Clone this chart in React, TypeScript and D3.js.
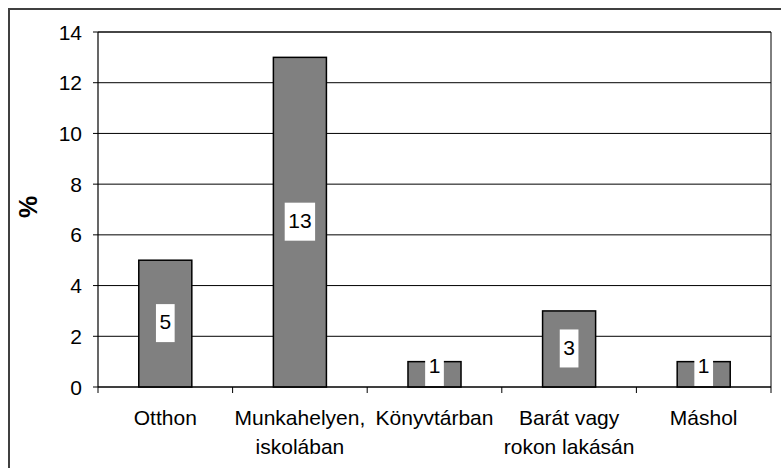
import React from "react";
import * as d3 from "d3";

const categories: string[][] = [
  ["Otthon"],
  ["Munkahelyen,", "iskolában"],
  ["Könyvtárban"],
  ["Barát vagy", "rokon lakásán"],
  ["Máshol"],
];
const values: number[] = [5, 13, 1, 3, 1];
const yTicks: number[] = [0, 2, 4, 6, 8, 10, 12, 14];
const yTitle = "%";

const W = 781;
const H = 468;
const FONT = "'Liberation Sans', Arial, sans-serif";
const FS = 21;

export default function App() {
  const left = 98;
  const right = 771;
  const top = 32;
  const bottom = 387;

  const x = d3
    .scaleBand<number>()
    .domain(values.map((_, i) => i))
    .range([left, right])
    .padding(0);
  const y = d3.scaleLinear().domain([0, 14]).range([bottom, top]);
  const barW = x.bandwidth() * 0.394;
  const boundaries = d3.range(values.length + 1).map((i) => left + i * x.step());

  const boxH = 39;

  return (
    <svg
      width={W}
      height={H}
      style={{ position: "absolute", left: 0, top: 0, background: "#fff" }}
      fontFamily={FONT}
    >
      <rect x={0} y={0} width={W} height={H} fill="#fff" />
      {/* outer frame */}
      <rect x={9} y={9} width={W + 20} height={H + 20} fill="none" stroke="#404040" strokeWidth={2} />

      {/* gridlines */}
      {yTicks.map((t) => (
        <line key={"g" + t} x1={left} x2={right} y1={y(t)} y2={y(t)} stroke="#000" strokeWidth={1} />
      ))}
      {/* plot area border top/right */}
      <line x1={left} x2={right} y1={top} y2={top} stroke="#333" strokeWidth={1.5} />
      <line x1={right} x2={right} y1={top} y2={bottom} stroke="#000" strokeWidth={1} />

      {/* bars */}
      {values.map((v, i) => {
        const cx = (x(i) as number) + x.bandwidth() / 2;
        return (
          <rect
            key={"b" + i}
            x={cx - barW / 2}
            y={y(v)}
            width={barW}
            height={y(0) - y(v)}
            fill="#808080"
            stroke="#000"
            strokeWidth={1.5}
          />
        );
      })}

      {/* axes */}
      <line x1={left} x2={left} y1={top} y2={bottom} stroke="#000" strokeWidth={1.2} />
      <line x1={left} x2={right} y1={bottom} y2={bottom} stroke="#000" strokeWidth={1.2} />
      {yTicks.map((t) => (
        <g key={"yt" + t}>
          <line x1={left - 5} x2={left} y1={y(t)} y2={y(t)} stroke="#000" strokeWidth={1} />
          <text x={82} y={y(t)} dy="0.36em" textAnchor="end" fontSize={FS} fill="#000">
            {t}
          </text>
        </g>
      ))}
      {boundaries.map((b, i) => (
        <line key={"xt" + i} x1={b} x2={b} y1={bottom} y2={bottom + 6} stroke="#000" strokeWidth={1} />
      ))}

      {/* category labels */}
      {categories.map((lines, i) => {
        const cx = (x(i) as number) + x.bandwidth() / 2;
        return (
          <text key={"c" + i} x={cx} textAnchor="middle" fontSize={FS} fill="#000">
            {lines.map((l, j) => (
              <tspan key={j} x={cx} y={425 + j * 29}>
                {l}
              </tspan>
            ))}
          </text>
        );
      })}

      {/* data labels */}
      {values.map((v, i) => {
        const cx = (x(i) as number) + x.bandwidth() / 2;
        const label = String(v);
        const bw = label.length * 11.7 + 7;
        let cy = (y(v) + y(0)) / 2;
        if (cy + boxH / 2 > bottom) cy = bottom - boxH / 2;
        return (
          <g key={"l" + i}>
            <rect x={cx - bw / 2} y={cy - boxH / 2} width={bw} height={boxH - 1} fill="#fff" />
            <text x={cx} y={cy - 2} dy="0.36em" textAnchor="middle" fontSize={FS} fill="#000">
              {label}
            </text>
          </g>
        );
      })}

      {/* y title */}
      <text
        transform={`translate(37,207) rotate(-90)`}
        textAnchor="middle"
        fontSize={25}
        fontWeight="bold"
        fill="#000"
      >
        {yTitle}
      </text>
    </svg>
  );
}
